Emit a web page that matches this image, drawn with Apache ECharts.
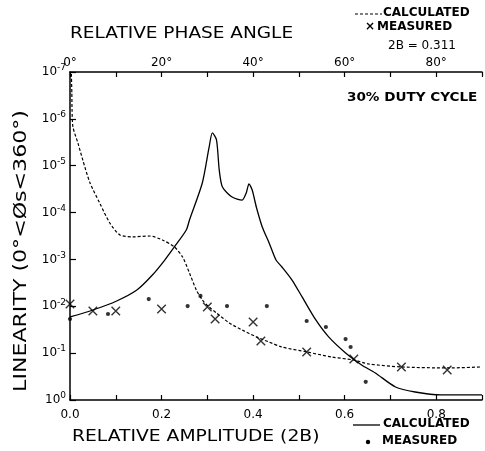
<!DOCTYPE html>
<html><head><meta charset="utf-8">
<script src="https://cdn.jsdelivr.net/npm/echarts@6/dist/echarts.min.js"></script>
<style>html,body{margin:0;padding:0;background:#fff}#c{width:485px;height:451px}</style>
</head><body><div id="c"></div>
<script>
// Calculated linearity vs relative amplitude (2B) - solid curve
const ampCalcX = [0.0,0.05,0.102,0.146,0.18,0.207,0.228,0.254,0.261,0.289,0.304,0.311,0.320,0.326,0.333,0.354,0.376,0.385,0.391,0.398,0.407,0.420,0.435,0.450,0.463,0.485,0.507,0.537,0.565,0.602,0.637,0.667,0.711,0.754,0.811,0.9];
const ampCalcY = [0.0169,0.0120,0.0077,0.0045,0.00215,0.00103,5.4e-4,2.35e-4,1.44e-4,2.34e-5,3.98e-6,2.0e-6,2.8e-6,1.23e-5,2.85e-5,4.66e-5,5.4e-5,3.8e-5,2.45e-5,3.3e-5,7.6e-5,2.03e-4,4.45e-4,1.03e-3,1.45e-3,2.75e-3,6.3e-3,0.0196,0.045,0.099,0.179,0.265,0.527,0.675,0.78,0.78];
// Measured vs relative amplitude - dots
const ampMeasX = [0.0,0.083,0.172,0.257,0.285,0.343,0.430,0.517,0.559,0.602,0.613,0.646];
const ampMeasY = [0.0187,0.0146,0.0070,0.0099,0.0060,0.0099,0.0099,0.0206,0.0277,0.050,0.074,0.41];
// Calculated linearity vs relative phase angle (deg) - dashed curve
const phCalcX = [0.3,0.4,0.45,0.65,1.74,2.8,4.35,6.5,8.7,10.9,13.7,17.4,20.2,22.8,24.6,26.1,27.6,28.9,30.4,32.0,34.8,37.6,40.7,43.5,46.3,51.7,57.2,62.0,65.2,72.4,82.6,90];
const phCalcY = [1.1e-7,2.8e-7,6.5e-7,1.5e-6,3.3e-6,7.6e-6,2.3e-5,6.3e-5,1.67e-4,3.0e-4,3.3e-4,3.16e-4,3.85e-4,5.4e-4,8.9e-4,1.95e-3,4.5e-3,7.3e-3,0.0104,0.0139,0.0227,0.032,0.045,0.058,0.074,0.094,0.121,0.14,0.17,0.197,0.207,0.197];
// Measured vs relative phase angle - crosses
const phMeasX = [0,5,10,20,30,31.7,40,41.7,51.7,62,72.4,82.4];
const phMeasY = [0.0089,0.0126,0.0126,0.0114,0.0104,0.0187,0.0216,0.055,0.094,0.133,0.197,0.229];
// tick labels
const ampTicks = [0,0.2,0.4,0.6,0.8];
const phaseTicks = [0,20,40,60,80];

const zip = (a,b)=>a.map((v,i)=>[v,b[i]]);
const FONT = 'DejaVu Sans';
const chart = echarts.init(document.getElementById('c'));
const sup = {fontSize: 9, fontFamily: FONT, color:'#000', padding:[0,0,8,0]};
chart.setOption({
  animation:false,
  backgroundColor:'#fff',
  grid:{left:70,right:1,top:72,bottom:51},
  xAxis:[{
    type:'value', position:'bottom', min:0, max:0.9, interval:0.1,
    axisLine:{onZero:false,lineStyle:{color:'#000',width:1.5}},
    axisTick:{inside:true,length:5,lineStyle:{color:'#000',width:1.2}},
    splitLine:{show:false},
    axisLabel:{color:'#000',fontFamily:FONT,fontSize:12,margin:9,
      formatter:v=>{const r=Math.round(v*10)/10; return ampTicks.some(t=>Math.abs(t-r)<1e-6)&&Math.abs(v-r)<1e-6? r.toFixed(1):'';}}
  },{
    type:'value', position:'top', min:0, max:90, interval:10,
    axisLine:{onZero:false,lineStyle:{color:'#000',width:1.5}},
    axisTick:{inside:true,length:5,lineStyle:{color:'#000',width:1.2}},
    splitLine:{show:false},
    axisLabel:{color:'#000',fontFamily:FONT,fontSize:12,margin:3,
      formatter:v=>phaseTicks.includes(Math.round(v))? Math.round(v)+'°':''}
  }],
  yAxis:{
    type:'log', logBase:10, min:1e-7, max:1, inverse:true,
    axisLine:{show:true,onZero:false,lineStyle:{color:'#000',width:1.5}},
    axisTick:{show:true,inside:true,length:6,lineStyle:{color:'#000',width:1.2}},
    minorTick:{show:false}, splitLine:{show:false},
    axisLabel:{color:'#000',fontFamily:FONT,fontSize:12,margin:4,
      formatter:v=>'10{s|'+Math.round(Math.log10(v))+'}', rich:{s:sup}}
  },
  series:[
    {type:'line', xAxisIndex:0, data:zip(ampCalcX,ampCalcY), symbol:'none', smooth:0.25,
     lineStyle:{color:'#000',width:1.3}},
    {type:'line', xAxisIndex:1, data:zip(phCalcX,phCalcY), symbol:'none', smooth:0.25,
     lineStyle:{color:'#000',width:1.2,type:[3,2]}},
    {type:'scatter', xAxisIndex:1, data:zip(phMeasX,phMeasY), symbol:'path://M0,0L10,10M10,0L0,10', symbolSize:8.5,
     itemStyle:{color:'rgba(0,0,0,0)',borderColor:'#000',borderWidth:1.4}},
    {type:'scatter', xAxisIndex:0, data:zip(ampMeasX,ampMeasY), symbol:'circle', symbolSize:4.2,
     itemStyle:{color:'#000'}}
  ],
  graphic:[
    {type:'text', x:70, y:26, scaleX:1.155, style:{text:'RELATIVE PHASE ANGLE', font:'16px '+FONT, fill:'#000'}},
    {type:'text', x:72, y:429, scaleX:1.17, style:{text:'RELATIVE AMPLITUDE (2B)', font:'16px '+FONT, fill:'#000'}},
    {type:'text', x:22, y:251, rotation:Math.PI/2, scaleX:1.3, style:{text:'LINEARITY (0°<Øs<360°)', font:'17px '+FONT, fill:'#000', align:'center', verticalAlign:'middle'}},
    {type:'text', x:347, y:92, scaleX:1.13, style:{text:'30% DUTY CYCLE', font:'bold 12px '+FONT, fill:'#000'}},
    // top-right legend
    {type:'line', shape:{x1:355,y1:14,x2:382,y2:14}, style:{stroke:'#000',lineWidth:1.2,lineDash:[3,2]}},
    {type:'text', x:383, y:7, style:{text:'CALCULATED', font:'bold 12px '+FONT, fill:'#000'}},
    {type:'text', x:365, y:21, style:{text:'×', font:'bold 12px '+FONT, fill:'#000'}},
    {type:'text', x:377, y:21, style:{text:'MEASURED', font:'bold 12px '+FONT, fill:'#000'}},
    {type:'text', x:388, y:40, style:{text:'2B = 0.311', font:'12px '+FONT, fill:'#000'}},
    // bottom-right legend
    {type:'line', shape:{x1:353,y1:425,x2:380,y2:425}, style:{stroke:'#000',lineWidth:1.3}},
    {type:'text', x:383, y:418, style:{text:'CALCULATED', font:'bold 12px '+FONT, fill:'#000'}},
    {type:'circle', shape:{cx:368,cy:442,r:2.2}, style:{fill:'#000'}},
    {type:'text', x:382, y:435, style:{text:'MEASURED', font:'bold 12px '+FONT, fill:'#000'}}
  ]
});
</script></body></html>
